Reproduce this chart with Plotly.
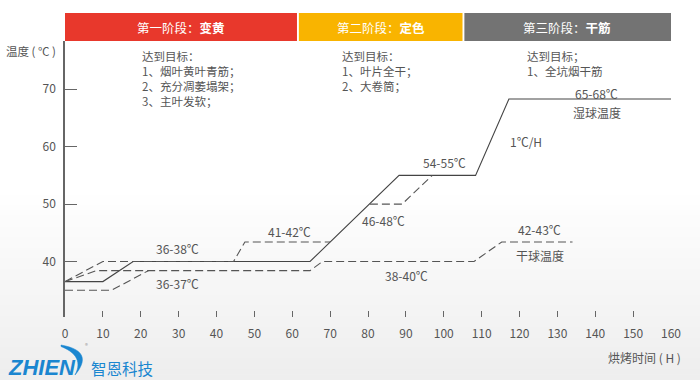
import plotly.graph_objects as go

# ---------------- data ----------------
x_ticks = list(range(0, 161, 10))
y_ticks = [40, 50, 60, 70]

solid_h = [0, 10, 18, 64.7, 88.2, 108.4, 117.2, 160]
solid_t = [36.5, 36.5, 40, 40, 55, 55, 68.3, 68.3]

upper_h = [0, 10, 44.5, 47.5, 70, None, 80.5, 89, 97]
upper_t = [36.5, 40, 40, 43.4, 43.4, None, 50, 50, 55]

mid_h = [0, 8.3, 64.7, 68, 108, 115.3, 134]
mid_t = [36.5, 38.4, 38.4, 40, 40, 43.4, 43.4]

low_h = [0, 12.3, 22]
low_t = [35, 35, 38.4]

label_text = ["36-38℃", "36-37℃", "41-42℃", "46-48℃", "54-55℃", "1℃/H",
              "65-68℃", "湿球温度", "42-43℃", "干球温度", "38-40℃"]
label_h = [29.7, 29.7, 59.4, 84.0, 100.1, 121.6, 140.4, 140.4, 125.4, 125.4, 90.2]
label_t = [42.3, 36.2, 45.2, 47.1, 57.2, 60.9, 69.3, 65.9, 45.6, 41.1, 37.5]

stage_names = ["第一阶段：<b>变黄</b>", "第二阶段：<b>定色</b>", "第三阶段：<b>干筋</b>"]
stage_edges = [0, 61.5, 105.2, 160]
stage_colors = ["#e8382c", "#f9b400", "#737373"]

goal_text = [
    "达到目标：<br>1、烟叶黄叶青筋；<br>2、充分凋萎塌架；<br>3、主叶发软；",
    "达到目标：<br>1、叶片全干；<br>2、大卷筒；",
    "达到目标；<br>1、全坑烟干筋",
]
goal_h = [19.8, 72.6, 121.5]

# ---------------- geometry helpers ----------------
W, H = 700, 380
ML, MR, MT, MB = 65, 29, 41, 63
PW, PH = W - ML - MR, H - MT - MB


def px(xp, yp):
    return (xp - ML) / PW, (H - MB - yp) / PH


FONT = "Noto Sans CJK SC, Microsoft YaHei, sans-serif"
TXT = "#555555"
LINE = "#444444"
BLUE = "#1a86d0"

fig = go.Figure()

fig.add_trace(go.Scatter(x=solid_h, y=solid_t, mode="lines",
                         line=dict(color=LINE, width=1.1), hoverinfo="skip"))
for hh, tt in [(upper_h, upper_t), (mid_h, mid_t), (low_h, low_t)]:
    fig.add_trace(go.Scatter(x=hh, y=tt, mode="lines", connectgaps=False,
                             line=dict(color="#555555", width=1.1, dash="8px,4px"),
                             hoverinfo="skip"))

shapes = []
# background gradient (white to light gray at the bottom)
n = 36
y_start, y_end = 190, 380
for i in range(n):
    a = y_start + (y_end - y_start) * i / n
    b = y_start + (y_end - y_start) * (i + 1) / n
    g = int(round(255 - 17 * ((i + 1) / n)))
    _, pa = px(0, a)
    _, pb = px(0, b)
    shapes.append(dict(type="rect", xref="paper", yref="paper", x0=-0.2, x1=1.2,
                       y0=pb, y1=pa + 0.002, fillcolor=f"rgb({g},{g},{g})",
                       line=dict(width=0), layer="below"))

# stage header bars
_, hy0 = px(0, 41)
_, hy1 = px(0, 13)
gap = 0.25
for i in range(3):
    x0 = stage_edges[i] + (gap if i > 0 else 0)
    x1 = stage_edges[i + 1] - (gap if i < 2 else 0)
    shapes.append(dict(type="rect", xref="x", yref="paper", x0=x0, x1=x1,
                       y0=hy0, y1=hy1, fillcolor=stage_colors[i],
                       line=dict(width=0), layer="below"))


# logo swoosh (crescent outline built as a polyline in paper coordinates)
def bez(p0, c, p2, k=14):
    pts = []
    for j in range(k + 1):
        t = j / k
        x = (1 - t) ** 2 * p0[0] + 2 * (1 - t) * t * c[0] + t ** 2 * p2[0]
        y = (1 - t) ** 2 * p0[1] + 2 * (1 - t) * t * c[1] + t ** 2 * p2[1]
        pts.append((x, y))
    return pts


outer = bez((61, 345), (95, 351), (75, 375))
inner = bez((75, 375), (85, 356), (61, 346.5))
pts = outer + inner[1:]
path = "M " + " L ".join("{:.5f},{:.5f}".format(*px(x, y)) for x, y in pts) + " Z"
shapes.append(dict(type="path", xref="paper", yref="paper", path=path,
                   fillcolor=BLUE, line=dict(width=0.5, color=BLUE), layer="above"))

annotations = []
for t, hh, tt in zip(label_text, label_h, label_t):
    annotations.append(dict(x=hh, y=tt, xref="x", yref="y", text=t,
                            showarrow=False, xanchor="center", yanchor="middle",
                            font=dict(family=FONT, size=12, color=TXT)))

_, hty = px(0, 27)
for i in range(3):
    annotations.append(dict(x=(stage_edges[i] + stage_edges[i + 1]) / 2, y=hty,
                            xref="x", yref="paper", text=stage_names[i], showarrow=False,
                            xanchor="center", yanchor="middle",
                            font=dict(family=FONT, size=12.5, color="white")))

_, gy = px(0, 46)
for t, hh in zip(goal_text, goal_h):
    annotations.append(dict(x=hh, y=gy, xref="x", yref="paper", text=t, showarrow=False,
                            xanchor="left", yanchor="top", align="left",
                            font=dict(family=FONT, size=11.5, color=TXT)))

ax, ay = px(58, 51)
annotations.append(dict(x=ax, y=ay, xref="paper", yref="paper", text="温度 ( ℃ )",
                        showarrow=False, xanchor="right", yanchor="middle",
                        font=dict(family=FONT, size=11.5, color=TXT)))
ax, ay = px(683, 357)
annotations.append(dict(x=ax, y=ay, xref="paper", yref="paper", text="烘烤时间 ( H )",
                        showarrow=False, xanchor="right", yanchor="middle",
                        font=dict(family=FONT, size=12, color=TXT)))

# logo texts
ax, ay = px(6, 367)
annotations.append(dict(x=ax, y=ay, xref="paper", yref="paper",
                        text="<b><i>ZHIEN</i></b>", showarrow=False, xanchor="left",
                        yanchor="middle",
                        font=dict(family="Liberation Sans, Arial", size=22, color=BLUE)))
ax, ay = px(89, 368)
annotations.append(dict(x=ax, y=ay, xref="paper", yref="paper", text="智恩科技",
                        showarrow=False, xanchor="left", yanchor="middle",
                        font=dict(family=FONT, size=15.5, color=BLUE)))
ax, ay = px(86, 345)
annotations.append(dict(x=ax, y=ay, xref="paper", yref="paper", text="®",
                        showarrow=False, xanchor="center", yanchor="middle",
                        font=dict(family=FONT, size=6, color="#999")))

fig.update_layout(
    width=W, height=H,
    margin=dict(l=ML, r=MR, t=MT, b=MB, pad=0),
    paper_bgcolor="white", plot_bgcolor="rgba(0,0,0,0)",
    showlegend=False,
    shapes=shapes, annotations=annotations,
    font=dict(family=FONT, size=12, color=TXT),
    xaxis=dict(range=[0, 160], tickvals=x_ticks, ticks="inside", ticklen=6,
               tickcolor="#666", tickwidth=1, showline=False, showgrid=False,
               zeroline=False, ticklabelstandoff=8,
               tickfont=dict(family=FONT, size=12, color=TXT), fixedrange=True),
    yaxis=dict(range=[30.33, 78.41], tickvals=y_ticks, ticks="inside", ticklen=12,
               tickcolor="#666", tickwidth=1.2, showline=True, linecolor="#666",
               linewidth=1.5, showgrid=False, zeroline=False, ticklabelstandoff=5,
               tickfont=dict(family=FONT, size=12, color=TXT), fixedrange=True),
)

fig.write_html("out.html", config={"displayModeBar": False},
               post_script="document.body.style.margin='0';document.body.style.overflow='hidden';")
